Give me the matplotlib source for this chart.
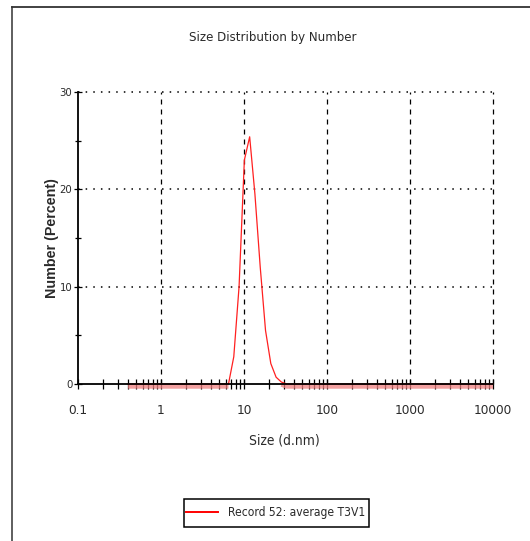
import numpy as np
import matplotlib
matplotlib.use("Agg")
import matplotlib.pyplot as plt
from matplotlib.lines import Line2D
from matplotlib.patches import Rectangle
from matplotlib.textpath import TextPath
from matplotlib.ticker import LogLocator, FixedLocator, NullFormatter, FixedFormatter
from matplotlib import font_manager as fm
import matplotlib.transforms as mtransforms

# ---- data ----
sizes_nm = [0.4, 0.4632, 0.5365, 0.6213, 0.7195, 0.8332, 0.9649, 1.117, 1.294, 1.499,
            1.736, 2.010, 2.328, 2.696, 3.122, 3.615, 4.187, 4.849, 5.615, 6.503,
            7.531, 8.721, 10.10, 11.70, 13.54, 15.69, 18.17, 21.04, 24.36, 28.21,
            32.67, 37.84, 43.82, 50.75, 58.77, 68.06, 78.82, 91.28, 105.7, 122.4,
            141.8, 164.2, 190.1, 220.2, 255.0, 295.3, 342.0, 396.1, 458.7, 531.2,
            615.1, 712.4, 825.0, 955.4, 1106, 1281, 1484, 1718, 1990, 2305,
            2669, 3091, 3580, 4145, 4801, 5560, 6439, 7456, 8635, 10000]
number_pct = [0, 0, 0, 0, 0, 0, 0, 0, 0, 0,
              0, 0, 0, 0, 0, 0, 0, 0, 0, 0,
              2.8, 10.0, 23.0, 25.4, 19.5, 12.0, 5.5, 2.1, 0.7, 0.2,
              0, 0, 0, 0, 0, 0, 0, 0, 0, 0,
              0, 0, 0, 0, 0, 0, 0, 0, 0, 0,
              0, 0, 0, 0, 0, 0, 0, 0, 0, 0,
              0, 0, 0, 0, 0, 0, 0, 0, 0, 0]
x_ticks = [0.1, 1, 10, 100, 1000, 10000]
x_ticklabels = ["0.1", "1", "10", "100", "1000", "10000"]
y_ticks = [0, 10, 20, 30]
y_ticklabels = ["0", "10", "20", "30"]
title = "Size Distribution by Number"
xlabel = "Size (d.nm)"
ylabel = "Number (Percent)"
legend_label = "Record 52: average T3V1"

DPI = 100

# ---- choose a narrow regular sans face, if one is installed (cheap scan) ----
def choose_narrow():
    fams = ("liberation sans", "dejavu sans", "noto sans", "open sans", "roboto", "lato", "inter")
    cands = []
    for f in fm.fontManager.ttflist:
        fn = f.fname.lower().rsplit("/", 1)[-1]
        nm = f.name.lower()
        if not nm.startswith(fams):
            continue
        if any(k in nm for k in ("mono", "serif", "cjk", "math", "symbol", "display")):
            continue
        if not any(k in fn for k in ("condensed", "narrow")) and str(f.stretch) == "normal":
            continue
        if any(k in fn for k in ("bold", "italic", "light", "oblique", "thin", "black",
                                 "medium", "semi", "extralight", "mono")):
            continue
        if "[" in fn:
            continue
        if str(f.style) != "normal":
            continue
        score = 0 if "narrow" in fn else (1 if "extracondensed" in fn else 2)
        if "semicondensed" in fn:
            score = 3
        cands.append((score, f.fname))
    if not cands:
        return None
    cands.sort()
    return cands[0][1]

narrow_path = choose_narrow()

def nfp(size):
    if narrow_path:
        return fm.FontProperties(fname=narrow_path, size=size)
    return fm.FontProperties(family=["Liberation Sans", "DejaVu Sans"], size=size)

def ink_width(s, fp):
    try:
        return TextPath((0, 0), s, prop=fp).get_extents().width
    except Exception:
        return None

def fit(s, target_px, maker=nfp):
    w = ink_width(s, maker(10))
    if not w:
        return 9
    w_px = w * DPI / 72.0
    return 10 * target_px / w_px

TXT = "#2a2a2a"
W, H = 530, 541
fig = plt.figure(figsize=(W / DPI, H / DPI), dpi=DPI)
fig.patch.set_facecolor("white")

def fx(px):
    return px / W

def fy(py):
    return 1 - py / H

ax = fig.add_axes([fx(78), fy(384), fx(493) - fx(78), fy(92) - fy(384)])
ax.set_xscale("log")
ax.set_xlim(0.1, 10000)
ax.set_ylim(0, 30)

# grid lines
for v in x_ticks[1:]:
    ax.axvline(v, color="black", lw=0.9, ls=(0, (4, 4)), zorder=1, clip_on=False)
for v in y_ticks[1:]:
    ax.axhline(v, color="black", lw=1.1, ls=(0, (1, 4)), zorder=1, clip_on=False)

# pale band of the zero-level trace
vals = np.array(number_pct, dtype=float)
zero_part = np.where(vals <= 0.2, vals, np.nan)
off = mtransforms.offset_copy(ax.transData, fig=fig, x=0, y=-2.5, units="dots")
ax.plot(sizes_nm, zero_part, color="#f08080", lw=3.2, alpha=0.75,
        transform=off, clip_on=False, zorder=2, solid_capstyle="butt")
line, = ax.plot(sizes_nm, number_pct, color="#ff2020", lw=0.9, zorder=3,
                clip_on=False, label=legend_label)

for s in ["top", "right"]:
    ax.spines[s].set_visible(False)
for s in ["left", "bottom"]:
    ax.spines[s].set_color("black")
    ax.spines[s].set_linewidth(1.3)
    ax.spines[s].set_zorder(4)

ax.xaxis.set_major_locator(FixedLocator(x_ticks))
ax.xaxis.set_major_formatter(FixedFormatter(x_ticklabels))
ax.xaxis.set_minor_locator(LogLocator(base=10, subs=np.arange(2, 10), numticks=20))
ax.xaxis.set_minor_formatter(NullFormatter())
ax.yaxis.set_major_locator(FixedLocator(y_ticks))
ax.yaxis.set_major_formatter(FixedFormatter(y_ticklabels))
ax.yaxis.set_minor_locator(FixedLocator([5, 15, 25]))

ax.tick_params(axis="x", which="major", direction="inout", length=7, width=0.9,
               pad=11, colors="black", labelcolor=TXT)
ax.tick_params(axis="x", which="minor", direction="inout", length=7, width=0.9, colors="black")
ax.tick_params(axis="y", which="major", direction="inout", length=6, width=0.9,
               pad=1, colors="black", labelcolor=TXT)
ax.tick_params(axis="y", which="minor", direction="inout", length=5, width=0.9, colors="black")
xt_size = fit("10000", 28) * 1.3
yt_size = fit("30", 10) * 1.15
for lab in ax.get_xticklabels():
    lab.set_fontproperties(nfp(xt_size))
for lab in ax.get_yticklabels():
    lab.set_fontproperties(nfp(yt_size))

fig.text(fx(273), fy(37), title, ha="center", va="center",
         fontproperties=nfp(fit(title, 118) * 1.4), color=TXT)
fig.text(fx(284), fy(440), xlabel, ha="center", va="center",
         fontproperties=nfp(fit(xlabel, 49) * 1.4), color=TXT)

def boldfp(size):
    return fm.FontProperties(family=["Liberation Sans", "DejaVu Sans"], weight="bold", size=size)

fig.text(fx(52), fy(238), ylabel, ha="center", va="center", rotation=90,
         fontproperties=boldfp(10.3), color=TXT)

# legend box
leg_fp = nfp(fit(legend_label, 108) * 1.25)
fig.add_artist(Rectangle((fx(184), fy(527)), fx(369) - fx(184), fy(499) - fy(527),
                         transform=fig.transFigure, facecolor="white",
                         edgecolor="black", lw=1.1))
fig.add_artist(Line2D([fx(186), fx(218)], [fy(512), fy(512)], transform=fig.transFigure,
                      color="red", lw=1.4))
fig.text(fx(228), fy(512.5), legend_label, ha="left", va="center",
         fontproperties=leg_fp, color=TXT)

# page border (top and left)
fig.add_artist(Line2D([fx(12), 1], [fy(7), fy(7)], transform=fig.transFigure,
                      color="#333333", lw=1.3))
fig.add_artist(Line2D([fx(12), fx(12)], [0, fy(7)], transform=fig.transFigure,
                      color="#333333", lw=1.1))

fig.savefig("out.png", dpi=DPI, facecolor="white")
